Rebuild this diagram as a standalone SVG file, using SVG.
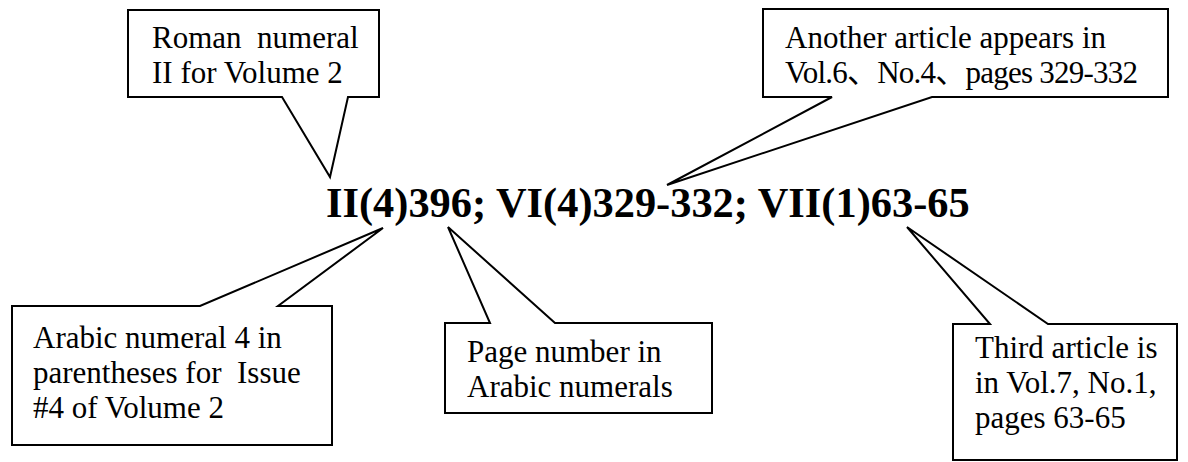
<svg xmlns="http://www.w3.org/2000/svg" width="1188" height="462" viewBox="0 0 1188 462">
<style>
.callout{fill:#fff;stroke:#000;stroke-width:2;stroke-linejoin:miter}
.lbl{font-family:"Liberation Serif","Noto Sans CJK SC",serif;font-size:31px;fill:#000}
.main{font-family:"Liberation Serif",serif;font-size:42.4px;font-weight:bold;fill:#000}
</style>
<rect width="1188" height="462" fill="#fff"/>
<g id="connectors"></g>
<g id="citation">
<text class="main" x="326" y="217">II(4)396; VI(4)329-332; VII(1)63-65</text>
</g>
<g id="roman">
<path class="callout" d="M128,10 H379 V97 H348 L330,177 L282,97 H128 Z"/>
<text class="lbl" x="152" y="48" xml:space="preserve">Roman  numeral</text>
<text class="lbl" x="152" y="83">II for Volume 2</text>
</g>
<g id="another">
<path class="callout" d="M763,9 H1168 V97 H932 L667,185 L832,97 H763 Z"/>
<text class="lbl" x="785" y="48">Another article appears in</text>
<text class="lbl" x="785" y="83" textLength="353" lengthAdjust="spacing">Vol.6、No.4、pages 329-332</text>
</g>
<g id="arabic">
<path class="callout" d="M12,306 H200 L383,228 L278,306 H332 V445 H12 Z"/>
<text class="lbl" x="33" y="348">Arabic numeral 4 in</text>
<text class="lbl" x="33" y="383" xml:space="preserve">parentheses for  Issue</text>
<text class="lbl" x="33" y="418">#4 of Volume 2</text>
</g>
<g id="page">
<path class="callout" d="M445,323 H490 L448,227 L555,323 H712 V413 H445 Z"/>
<text class="lbl" x="467" y="362">Page number in</text>
<text class="lbl" x="467" y="397">Arabic numerals</text>
</g>
<g id="third">
<path class="callout" d="M953,324 H990 L907,227 L1048,324 H1177 V460 H953 Z"/>
<text class="lbl" x="975" y="358">Third article is</text>
<text class="lbl" x="975" y="393">in Vol.7, No.1,</text>
<text class="lbl" x="975" y="428">pages 63-65</text>
</g>
</svg>
